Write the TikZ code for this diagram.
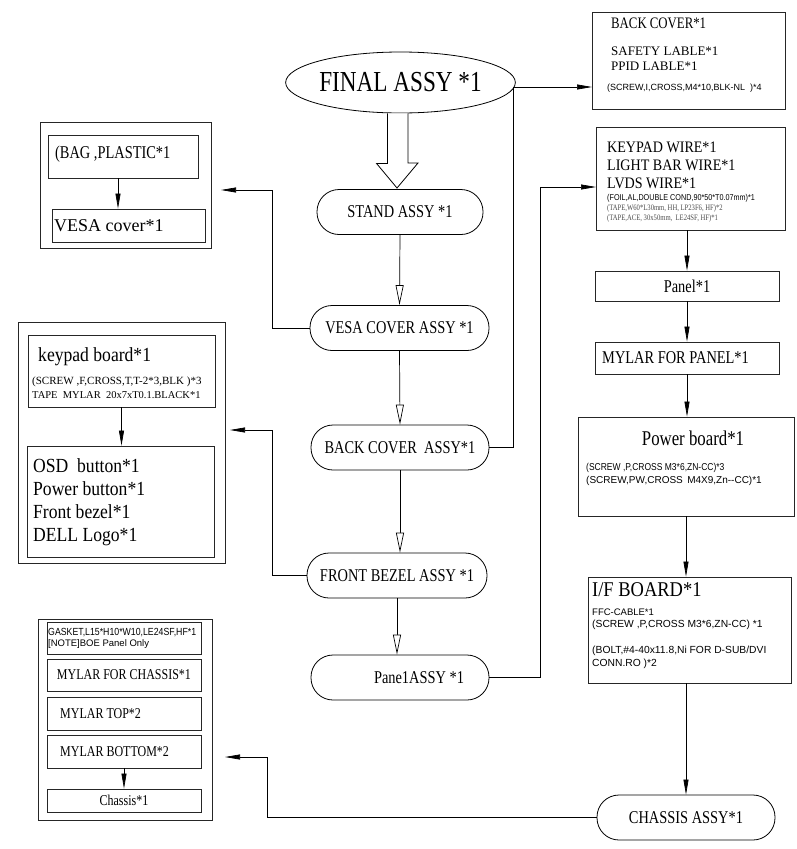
\documentclass[tikz,border=0pt]{standalone}
\usepackage{fontspec}
\setmainfont{Liberation Serif}
\newfontfamily\fS{Liberation Serif}[FakeStretch=0.8]
\newfontfamily\fSn{Liberation Serif}[FakeStretch=0.88]
\newfontfamily\fT{Liberation Serif}
\newfontfamily\fA{Liberation Sans}
\newfontfamily\fAn{Liberation Sans}[FakeStretch=0.85]
\newcommand{\fsz}[1]{\fontsize{#1}{#1}\selectfont}
\usetikzlibrary{arrows.meta,shapes.geometric,calc}
\tikzset{
  box/.style={draw=black!85, line width=0.8pt, inner sep=0pt},
  pill/.style={draw=black, line width=0.8pt, rounded corners=22pt, minimum height=45pt, inner sep=0pt},
  txt/.style={inner sep=0pt, anchor=west},
  ctxt/.style={inner sep=0pt},
  openarr/.style={line width=0.7pt, -{Triangle[open, length=20pt, width=8pt, fill=white]}},
  filarr/.style={line width=0.7pt, -{Triangle[length=15pt, width=5pt]}},
}
\begin{document}
\begin{tikzpicture}[x=1pt, y=-1pt]
\useasboundingbox (0,0) rectangle (796,849);
\fill[white] (0,0) rectangle (796,849);

% ---------- centre column ----------
\node[draw, line width=0.8pt, ellipse, minimum width=205pt, minimum height=61pt, inner sep=0pt] (final) at (400.5,82.5) {\fS\fsz{29}FINAL ASSY *1};
\draw[line width=0.8pt, fill=white] ($(final.south)+(-13,0)$) -- ++(0,50) -- ++(-11,0) -- (397,188) -- (418,163) -- ++(-10,0) -- ($(final.south)+(7.5,0)$);

\node[pill, minimum width=166pt] (stand) at (400,212) {\fS\fsz{18}STAND ASSY *1};
\node[pill, minimum width=179pt] (vesa) at (399.5,328) {\fS\fsz{18}VESA COVER ASSY *1};
\node[pill, minimum width=178pt] (back) at (400,447.5) {\fS\fsz{18}BACK COVER \ ASSY*1};
\node[pill, minimum width=180pt] (front) at (397,575.5) {\fS\fsz{18}FRONT BEZEL ASSY *1};
\node[pill, minimum width=178pt] (panelassy) at (400,677.5) {\fS\fsz{18}\hspace*{38pt}Pane1ASSY *1};
\node[pill, minimum width=178pt] (chassisassy) at (686,817.5) {\fS\fsz{18}CHASSIS ASSY*1};

\draw[openarr] (stand.south) -- (vesa.north);
\draw[openarr] (vesa.south) -- (back.north);
\draw[openarr] (back.south) -- (back.south |- front.north);
\draw[openarr] (front.south) -- (front.south |- panelassy.north);

% ---------- right column ----------
\node[box, minimum width=193pt, minimum height=97pt] (backcov) at (688.5,60.5) {};
\node[txt] (t1) at (611,23.5) {\fS\fsz{16}BACK COVER*1};
\node[txt] (t2) at (611,51) {\fT\fsz{13}SAFETY LABLE*1};
\node[txt] (t3) at (611,66.5) {\fT\fsz{13}PPID LABLE*1};
\node[txt] (t4) at (607,88) {\fA\fsz{9}(SCREW,I,CROSS,M4*10,BLK-NL \ )*4};

\node[box, minimum width=189pt, minimum height=103pt] (wires) at (690.5,178.5) {};
\node[txt] (w1) at (607,147) {\fSn\fsz{16}KEYPAD WIRE*1};
\node[txt] (w2) at (607,165) {\fSn\fsz{16}LIGHT BAR WIRE*1};
\node[txt] (w3) at (607,183) {\fSn\fsz{16}LVDS WIRE*1};
\node[txt] (w4) at (607,198) {\fAn\fsz{8.5}(FOIL,AL,DOUBLE COND,90*50*T0.07mm)*1};
\node[txt, text=black!70] (w5) at (607,208.5) {\fS\fsz{8.3}(TAPE,W60*L30mm, HH, LP23F6, HF)*2};
\node[txt, text=black!70] (w6) at (607,218.5) {\fS\fsz{8.3}(TAPE,ACE, 30x50mm, \ LE24SF, HF)*1};

\node[box, minimum width=184pt, minimum height=30pt] (panel) at (687,286) {\fS\fsz{18}Panel*1};
\node[box, minimum width=184pt, minimum height=32pt] (mylarp) at (687,358) {};
\node[txt] (mp) at (602,358) {\fS\fsz{18}MYLAR FOR PANEL*1};

\node[box, minimum width=216pt, minimum height=99pt] (power) at (686,466.5) {};
\node[ctxt] (pw1) at (693,438) {\fS\fsz{21}Power board*1};
\node[txt] (pw2) at (586,468) {\fAn\fsz{10}(SCREW ,P,CROSS M3*6,ZN-CC)*3};
\node[txt] (pw3) at (586,481) {\fA\fsz{10}(SCREW,PW,CROSS \,M4X9,Zn--CC)*1};

\node[box, minimum width=203pt, minimum height=106pt] (ifb) at (689.5,630) {};
\node[txt] (i1) at (592,590) {\fSn\fsz{21}I/F BOARD*1};
\node[txt] (i2) at (592,612) {\fA\fsz{9.5}FFC-CABLE*1};
\node[txt] (i3) at (592,624.5) {\fA\fsz{10.3}(SCREW ,P,CROSS M3*6,ZN-CC) *1};
\node[txt] (i4) at (592,651) {\fA\fsz{10.3}(BOLT,\#4-40x11.8,Ni FOR D-SUB/DVI};
\node[txt] (i5) at (592,663.5) {\fA\fsz{10.3}CONN.RO )*2};

\draw[filarr] (wires.south -| panel.north) -- (panel.north);
\draw[filarr] (panel.south) -- (mylarp.north);
\draw[filarr] (mylarp.south) -- (mylarp.south |- power.north);
\draw[filarr] (power.south) -- (power.south |- ifb.north);
\draw[filarr] (ifb.south -| chassisassy.north) -- (chassisassy.north);

\coordinate (bcin) at (592,87);
\coordinate (wirin) at (596,187);
\draw[filarr] (back.east) -- ++(24,0) |- (bcin);
\draw[filarr] (panelassy.east) -- ++(51,0) |- (wirin);

% ---------- left column ----------
\node[box, minimum width=171pt, minimum height=126pt] (g1) at (125.5,185) {};
\node[box, minimum width=150pt, minimum height=43pt] (bag) at (123,156.5) {};
\node[txt] (bt) at (55,154) {\fS\fsz{18}(BAG ,PLASTIC*1};
\node[box, minimum width=153pt, minimum height=33pt] (vesac) at (128.5,225.5) {};
\node[txt] (vt) at (54,226) {\fT\fsz{18}VESA cover*1};
\draw[filarr] (bag.south -| 118,0) -- (vesac.north -| 118,0);

\node[box, minimum width=207pt, minimum height=241pt] (g2) at (121.5,442.5) {};
\node[box, minimum width=187pt, minimum height=72pt] (kpb) at (121.5,371) {};
\node[txt] (k1) at (38,357) {\fSn\fsz{20}keypad board*1};
\node[txt] (k2) at (32,382) {\fT\fsz{11}(SCREW ,F,CROSS,T,T-2*3,BLK )*3};
\node[txt] (k3) at (32,395.5) {\fT\fsz{10.5}TAPE \ MYLAR \ 20x7xT0.1.BLACK*1};
\node[box, minimum width=187pt, minimum height=111pt] (osd) at (120.5,501.5) {};
\node[txt] (o1) at (33,466) {\fSn\fsz{20}OSD \ button*1};
\node[txt] (o2) at (33,489) {\fSn\fsz{20}Power button*1};
\node[txt] (o3) at (33,512) {\fSn\fsz{20}Front bezel*1};
\node[txt] (o4) at (33,537) {\fSn\fsz{20}DELL Logo*1};
\draw[filarr] (kpb.south) -- (kpb.south |- osd.north);

\node[box, minimum width=174pt, minimum height=201pt] (g3) at (125,719.5) {};
\node[box, minimum width=154pt, minimum height=32pt] (gask) at (124,638) {};
\node[txt] (g3a) at (48,633) {\fAn\fsz{10.3}GASKET,L15*H10*W10,LE24SF,HF*1};
\node[txt] (g3b) at (48,644.5) {\fA\fsz{9.5}[NOTE]BOE Panel Only};
\node[box, minimum width=154pt, minimum height=32pt] (mfc) at (124,675) {\fS\fsz{15}MYLAR FOR CHASSIS*1};
\node[box, minimum width=154pt, minimum height=33pt] (mtop) at (124,713.5) {};
\node[txt] (mtt) at (60,713.5) {\fS\fsz{15}MYLAR TOP*2};
\node[box, minimum width=154pt, minimum height=33pt] (mbot) at (124,751.5) {};
\node[txt] (mbt) at (60,751.5) {\fS\fsz{15}MYLAR BOTTOM*2};
\node[box, minimum width=154pt, minimum height=23pt] (chas) at (124,800.5) {\fS\fsz{15}Chassis*1};
\draw[filarr] (mbot.south) -- (chas.north);

\coordinate (g1in) at (221,190);
\coordinate (g2in) at (230,430);
\coordinate (g3in) at (225,757);
\draw[filarr] (vesa.west) -- ++(-37,0) |- (g1in);
\draw[filarr] (front.west) -- ++(-34,0) |- (g2in);
\draw[filarr] (chassisassy.west) -- ++(-329,0) |- (g3in);
\end{tikzpicture}
\end{document}
